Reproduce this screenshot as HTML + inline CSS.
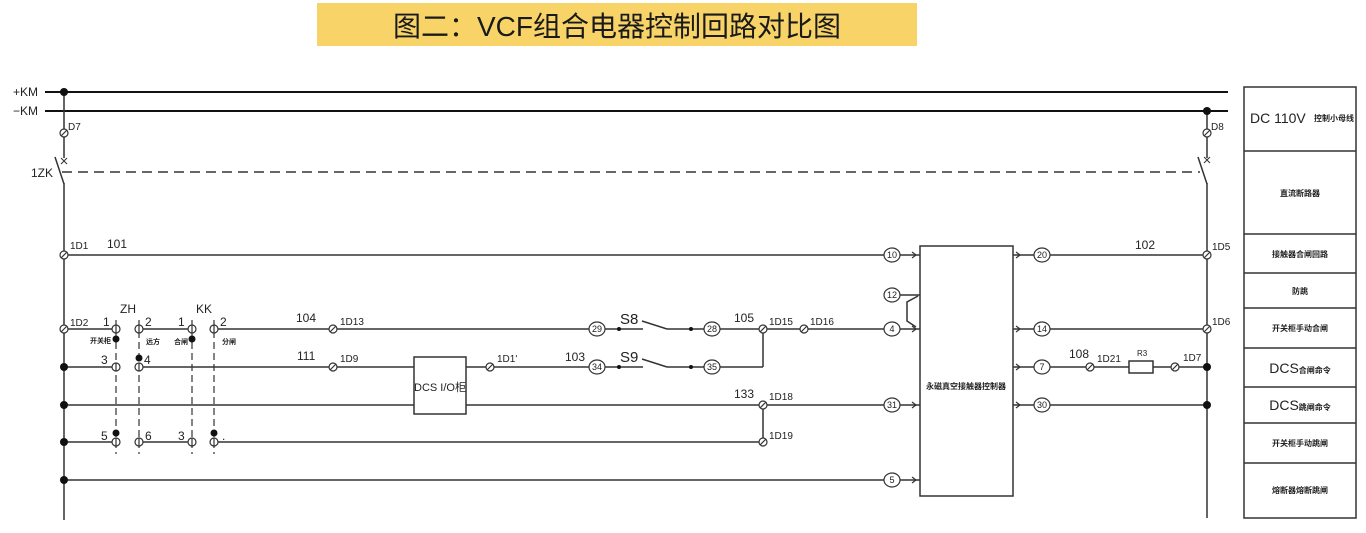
<!DOCTYPE html>
<html><head><meta charset="utf-8"><style>
html,body{margin:0;padding:0;background:#fff;}
svg{display:block;}
.t{font-family:"Liberation Sans Narrow","Liberation Sans","Noto Sans CJK SC",sans-serif;fill:#222;}
.c{font-family:"Liberation Sans","Noto Sans CJK SC",sans-serif;fill:#222;font-weight:bold;}
</style></head><body>
<svg width="1366" height="533" viewBox="0 0 1366 533" xmlns="http://www.w3.org/2000/svg">
<rect x="317" y="3" width="600" height="43" fill="#F8D468"/>
<text x="617" y="36" font-size="28" text-anchor="middle" font-family="Liberation Sans, Noto Sans CJK SC, sans-serif" fill="#1a1a1a">图二：VCF组合电器控制回路对比图</text>

<g stroke="#111" stroke-width="2" fill="none">
<line x1="45" y1="92" x2="1228" y2="92"/>
<line x1="45" y1="111" x2="1228" y2="111"/>
</g>
<g stroke="#333" stroke-width="1.5" fill="none">
<line x1="64" y1="92" x2="64" y2="158"/>
<line x1="55" y1="157" x2="64" y2="184"/>
<line x1="64" y1="183" x2="64" y2="520"/>
<line x1="1207" y1="111" x2="1207" y2="158"/>
<line x1="1198" y1="157" x2="1207" y2="184"/>
<line x1="1207" y1="183" x2="1207" y2="518"/>
<line x1="62" y1="172" x2="1200" y2="172" stroke-dasharray="10 6"/>
<path d="M61,158 l6,6 M67,158 l-6,6 M1204,157 l6,6 M1210,157 l-6,6" stroke-width="1"/>
<!-- row 255 -->
<line x1="64" y1="255" x2="884" y2="255"/>
<line x1="900" y1="255" x2="920" y2="255"/>
<line x1="1013" y1="255" x2="1034" y2="255"/>
<line x1="1050" y1="255" x2="1207" y2="255"/>
<line x1="900" y1="295" x2="920" y2="295"/>
<polyline points="918,296 907,302 907,321 916,327"/>
<!-- row 329 -->
<line x1="64" y1="329" x2="112" y2="329"/>
<line x1="143" y1="329" x2="188" y2="329"/>
<line x1="218" y1="329" x2="589" y2="329"/>
<line x1="605" y1="329" x2="643" y2="329"/>
<line x1="642" y1="321" x2="667" y2="329"/>
<line x1="667" y1="329" x2="704" y2="329"/>
<line x1="720" y1="329" x2="884" y2="329"/>
<line x1="900" y1="329" x2="920" y2="329"/>
<line x1="1013" y1="329" x2="1034" y2="329"/>
<line x1="1050" y1="329" x2="1207" y2="329"/>
<!-- row 367 -->
<line x1="64" y1="367" x2="112" y2="367"/>
<line x1="143" y1="367" x2="414" y2="367"/>
<line x1="466" y1="367" x2="589" y2="367"/>
<line x1="605" y1="367" x2="643" y2="367"/>
<line x1="642" y1="359" x2="667" y2="367"/>
<line x1="667" y1="367" x2="704" y2="367"/>
<line x1="720" y1="367" x2="763" y2="367"/>
<line x1="763" y1="329" x2="763" y2="367"/>
<line x1="1013" y1="367" x2="1034" y2="367"/>
<line x1="1050" y1="367" x2="1129" y2="367"/>
<line x1="1153" y1="367" x2="1207" y2="367"/>
<!-- row 405 -->
<line x1="64" y1="405" x2="884" y2="405"/>
<line x1="900" y1="405" x2="920" y2="405"/>
<line x1="1013" y1="405" x2="1034" y2="405"/>
<line x1="1050" y1="405" x2="1207" y2="405"/>
<line x1="763" y1="405" x2="763" y2="442"/>
<!-- row 442 -->
<line x1="64" y1="442" x2="112" y2="442"/>
<line x1="143" y1="442" x2="188" y2="442"/>
<line x1="218" y1="442" x2="763" y2="442"/>
<!-- row 480 -->
<line x1="64" y1="480" x2="884" y2="480"/>
<line x1="900" y1="480" x2="920" y2="480"/>
<!-- dashed contact lines -->
<g stroke-dasharray="7 4" stroke-width="1.2">
<line x1="116" y1="320" x2="116" y2="454"/>
<line x1="139" y1="320" x2="139" y2="454"/>
<line x1="192" y1="320" x2="192" y2="454"/>
<line x1="214" y1="320" x2="214" y2="454"/>
</g>
<!-- boxes -->
<rect x="414" y="357" width="52" height="57" fill="#fff"/>
<rect x="920" y="246" width="93" height="250" fill="#fff"/>
<rect x="1129" y="361" width="24" height="12" fill="#fff"/>
<!-- chevrons -->
<g stroke-width="1.2">
<path d="M912,252 l4,3 l-4,3 M912,326 l4,3 l-4,3 M912,402 l4,3 l-4,3 M912,477 l4,3 l-4,3"/>
<path d="M1016,252 l4,3 l-4,3 M1016,326 l4,3 l-4,3 M1016,364 l4,3 l-4,3 M1016,402 l4,3 l-4,3"/>
</g>
<!-- table -->
<rect x="1244" y="87" width="112" height="431"/>
<path d="M1244,151 H1356 M1244,234 H1356 M1244,273 H1356 M1244,308 H1356 M1244,348 H1356 M1244,387 H1356 M1244,423 H1356 M1244,463 H1356"/>
</g>

<!-- terminals -->
<g stroke="#333" stroke-width="1.2" fill="#fff">
<g id="tm">
<circle cx="64" cy="133" r="4"/><circle cx="1207" cy="133" r="4"/>
<circle cx="64" cy="255" r="4"/><circle cx="64" cy="329" r="4"/>
<circle cx="333" cy="329" r="4"/><circle cx="333" cy="367" r="4"/>
<circle cx="490" cy="367" r="4"/><circle cx="763" cy="329" r="4"/>
<circle cx="804" cy="329" r="4"/><circle cx="763" cy="405" r="4"/>
<circle cx="763" cy="442" r="4"/><circle cx="1207" cy="255" r="4"/>
<circle cx="1207" cy="329" r="4"/><circle cx="1090" cy="367" r="4"/>
<circle cx="1175" cy="367" r="4"/>
</g>
<path fill="none" d="M61,136 l6,-6 M1204,136 l6,-6 M61,258 l6,-6 M61,332 l6,-6 M330,332 l6,-6 M330,370 l6,-6 M487,370 l6,-6 M760,332 l6,-6 M801,332 l6,-6 M760,408 l6,-6 M760,445 l6,-6 M1204,258 l6,-6 M1204,332 l6,-6 M1087,370 l6,-6 M1172,370 l6,-6"/>
<!-- contacts -->
<circle cx="116" cy="329" r="4"/><circle cx="139" cy="329" r="4"/>
<circle cx="192" cy="329" r="4"/><circle cx="214" cy="329" r="4"/>
<circle cx="116" cy="367" r="4"/><circle cx="139" cy="367" r="4"/>
<circle cx="116" cy="442" r="4"/><circle cx="139" cy="442" r="4"/>
<circle cx="192" cy="442" r="4"/><circle cx="214" cy="442" r="4"/>
<path fill="none" d="M116,325 v8 M139,325 v8 M192,325 v8 M214,325 v8 M116,363 v8 M139,363 v8 M116,438 v8 M139,438 v8 M192,438 v8 M214,438 v8"/>
<!-- numbered circles -->
<ellipse cx="892" cy="255" rx="8" ry="7"/><ellipse cx="892" cy="295" rx="8" ry="7"/>
<ellipse cx="892" cy="329" rx="8" ry="7"/><ellipse cx="892" cy="405" rx="8" ry="7"/>
<ellipse cx="892" cy="480" rx="8" ry="7"/>
<ellipse cx="1042" cy="255" rx="8" ry="7"/><ellipse cx="1042" cy="329" rx="8" ry="7"/>
<ellipse cx="1042" cy="367" rx="8" ry="7"/><ellipse cx="1042" cy="405" rx="8" ry="7"/>
<ellipse cx="597" cy="329" rx="8" ry="7"/><ellipse cx="712" cy="329" rx="8" ry="7"/>
<ellipse cx="597" cy="367" rx="8" ry="7"/><ellipse cx="712" cy="367" rx="8" ry="7"/>
</g>
<!-- dots -->
<g fill="#111">
<circle cx="64" cy="92" r="4"/><circle cx="1207" cy="111" r="4"/>
<circle cx="64" cy="367" r="4"/><circle cx="64" cy="405" r="4"/>
<circle cx="64" cy="442" r="4"/><circle cx="64" cy="480" r="4"/>
<circle cx="1207" cy="367" r="4"/><circle cx="1207" cy="405" r="4"/>
<circle cx="116" cy="339" r="3.5"/><circle cx="192" cy="339" r="3.5"/>
<circle cx="139" cy="358" r="3.5"/><circle cx="116" cy="433" r="3.5"/>
<circle cx="214" cy="433" r="3.5"/>
<circle cx="619" cy="329" r="2"/><circle cx="691" cy="329" r="2"/>
<circle cx="619" cy="367" r="2"/><circle cx="691" cy="367" r="2"/>
</g>

<!-- circle numbers -->
<g class="t" font-size="9" text-anchor="middle">
<text x="892" y="258">10</text><text x="892" y="298">12</text>
<text x="892" y="332">4</text><text x="892" y="408">31</text>
<text x="892" y="483">5</text>
<text x="1042" y="258">20</text><text x="1042" y="332">14</text>
<text x="1042" y="370">7</text><text x="1042" y="408">30</text>
<text x="597" y="332">29</text><text x="712" y="332">28</text>
<text x="597" y="370">34</text><text x="712" y="370">35</text>
</g>

<g class="t" font-size="12">
<text x="13" y="96">+KM</text>
<text x="13" y="115">−KM</text>
<text x="31" y="177">1ZK</text>
<text x="107" y="248">101</text>
<text x="1135" y="249">102</text>
<text x="120" y="313">ZH</text>
<text x="196" y="313">KK</text>
<text x="103" y="326">1</text><text x="145" y="326">2</text>
<text x="178" y="326">1</text><text x="220" y="326">2</text>
<text x="101" y="364">3</text><text x="144" y="364">4</text>
<text x="101" y="440">5</text><text x="145" y="440">6</text>
<text x="178" y="440">3</text><text x="222" y="440">.</text>
<text x="296" y="322">104</text>
<text x="297" y="360">111</text>
<text x="565" y="361">103</text>
<text x="734" y="322">105</text>
<text x="734" y="398">133</text>
<text x="1069" y="358">108</text>
</g>
<g class="t" font-size="15">
<text x="620" y="324">S8</text>
<text x="620" y="362">S9</text>
</g>
<g class="t" font-size="10">
<text x="68" y="130">D7</text>
<text x="1211" y="130">D8</text>
<text x="70" y="249">1D1</text>
<text x="1212" y="250">1D5</text>
<text x="70" y="326">1D2</text>
<text x="1212" y="325">1D6</text>
<text x="340" y="325">1D13</text>
<text x="340" y="362">1D9</text>
<text x="497" y="362">1D1'</text>
<text x="769" y="325">1D15</text>
<text x="810" y="325">1D16</text>
<text x="769" y="400">1D18</text>
<text x="769" y="439">1D19</text>
<text x="1097" y="362">1D21</text>
<text x="1183" y="361">1D7</text>
<text x="440" y="391" text-anchor="middle" font-size="11">DCS I/O柜</text>
</g>
<text class="t" x="1137" y="356" font-size="8">R3</text>
<g class="c" font-size="7">
<text x="90" y="343">开关柜</text>
<text x="146" y="344">远方</text>
<text x="174" y="344">合闸</text>
<text x="222" y="344">分闸</text>
</g>
<text class="c" x="966" y="389" font-size="8" text-anchor="middle">永磁真空接触器控制器</text>

<!-- table text -->
<text class="t" x="1250" y="123" font-size="14" font-family="Liberation Sans">DC  110V</text>
<g class="c" font-size="8" text-anchor="middle">
<text x="1334" y="121">控制小母线</text>
<text x="1300" y="196">直流断路器</text>
<text x="1300" y="257">接触器合闸回路</text>
<text x="1300" y="294">防跳</text>
<text x="1300" y="331">开关柜手动合闸</text>
<text x="1300" y="446">开关柜手动跳闸</text>
<text x="1300" y="493">熔断器熔断跳闸</text>
</g>
<text x="1300" y="373" text-anchor="middle"><tspan class="t" font-size="14" font-family="Liberation Sans">DCS</tspan><tspan class="c" font-size="8">合闸命令</tspan></text>
<text x="1300" y="410" text-anchor="middle"><tspan class="t" font-size="14" font-family="Liberation Sans">DCS</tspan><tspan class="c" font-size="8">跳闸命令</tspan></text>
</svg>
</body></html>
